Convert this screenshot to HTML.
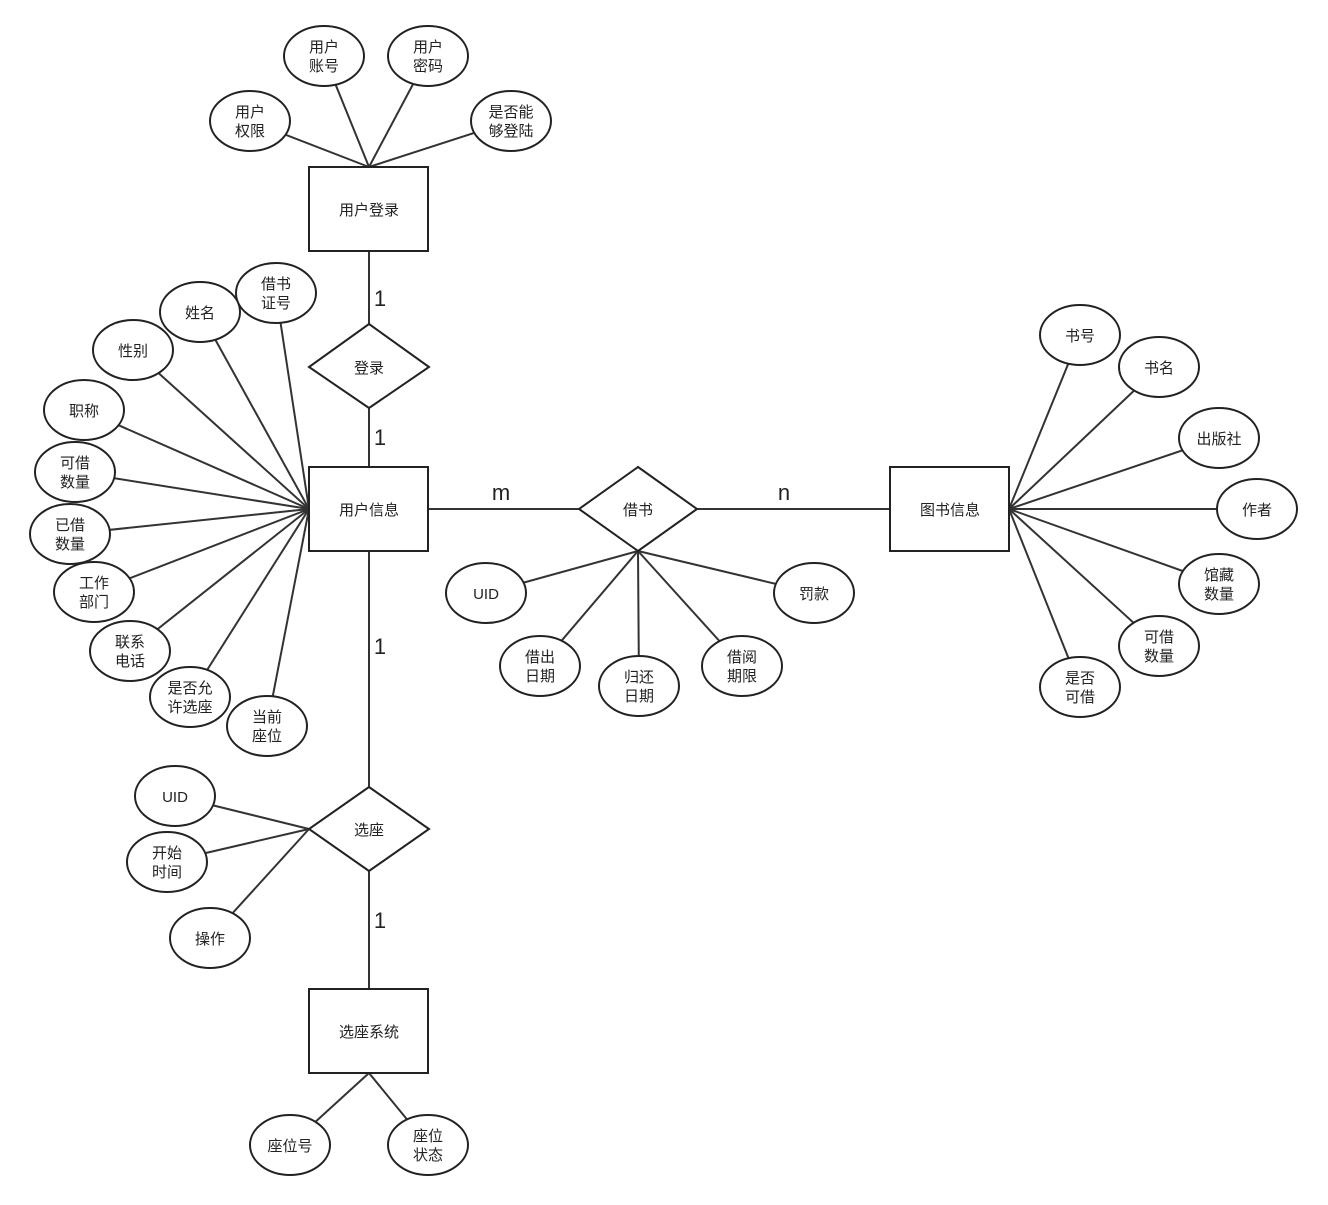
<!DOCTYPE html>
<html><head><meta charset="utf-8"><style>
html,body{margin:0;padding:0;background:#fff;}
svg text{font-family:"Liberation Sans","Noto Sans CJK SC",sans-serif;fill:#222;}
</style></head><body>
<svg width="1328" height="1200" xmlns="http://www.w3.org/2000/svg">
<g stroke="#333" stroke-width="2" fill="none">
<!-- main connectors -->
<line x1="369" y1="251" x2="369" y2="324"/>
<line x1="369" y1="408" x2="369" y2="467"/>
<line x1="428" y1="509" x2="579" y2="509"/>
<line x1="697" y1="509" x2="890" y2="509"/>
<line x1="369" y1="551" x2="369" y2="787"/>
<line x1="369" y1="871" x2="369" y2="989"/>
<!-- login attrs -->
<line x1="369" y1="167" x2="324" y2="56"/>
<line x1="369" y1="167" x2="428" y2="56"/>
<line x1="369" y1="167" x2="250" y2="121"/>
<line x1="369" y1="167" x2="511" y2="121"/>
<!-- user info attrs -->
<line x1="309" y1="509" x2="276" y2="293"/>
<line x1="309" y1="509" x2="200" y2="312"/>
<line x1="309" y1="509" x2="133" y2="350"/>
<line x1="309" y1="509" x2="84" y2="410"/>
<line x1="309" y1="509" x2="75" y2="472"/>
<line x1="309" y1="509" x2="70" y2="534"/>
<line x1="309" y1="509" x2="94" y2="592"/>
<line x1="309" y1="509" x2="130" y2="651"/>
<line x1="309" y1="509" x2="190" y2="697"/>
<line x1="309" y1="509" x2="267" y2="726"/>
<!-- borrow attrs -->
<line x1="638" y1="551" x2="486" y2="593"/>
<line x1="638" y1="551" x2="540" y2="666"/>
<line x1="638" y1="551" x2="639" y2="686"/>
<line x1="638" y1="551" x2="742" y2="666"/>
<line x1="638" y1="551" x2="814" y2="593"/>
<!-- book attrs -->
<line x1="1009" y1="509" x2="1080" y2="335"/>
<line x1="1009" y1="509" x2="1159" y2="367"/>
<line x1="1009" y1="509" x2="1219" y2="438"/>
<line x1="1009" y1="509" x2="1257" y2="509"/>
<line x1="1009" y1="509" x2="1219" y2="584"/>
<line x1="1009" y1="509" x2="1159" y2="646"/>
<line x1="1009" y1="509" x2="1080" y2="687"/>
<!-- seat attrs -->
<line x1="309" y1="829" x2="175" y2="796"/>
<line x1="309" y1="829" x2="167" y2="862"/>
<line x1="309" y1="829" x2="210" y2="938"/>
<line x1="369" y1="1073" x2="290" y2="1145"/>
<line x1="369" y1="1073" x2="428" y2="1145"/>
</g>
<g stroke="#222" stroke-width="2" fill="#fff">
<rect x="309" y="167" width="119" height="84"/>
<rect x="309" y="467" width="119" height="84"/>
<rect x="890" y="467" width="119" height="84"/>
<rect x="309" y="989" width="119" height="84"/>
<polygon points="369,324 429,367 369,408 309,367"/>
<polygon points="638,467 697,509 638,551 579,509"/>
<polygon points="369,787 429,829 369,871 309,829"/>
<ellipse cx="324" cy="56" rx="40" ry="30"/>
<ellipse cx="428" cy="56" rx="40" ry="30"/>
<ellipse cx="250" cy="121" rx="40" ry="30"/>
<ellipse cx="511" cy="121" rx="40" ry="30"/>
<ellipse cx="276" cy="293" rx="40" ry="30"/>
<ellipse cx="200" cy="312" rx="40" ry="30"/>
<ellipse cx="133" cy="350" rx="40" ry="30"/>
<ellipse cx="84" cy="410" rx="40" ry="30"/>
<ellipse cx="75" cy="472" rx="40" ry="30"/>
<ellipse cx="70" cy="534" rx="40" ry="30"/>
<ellipse cx="94" cy="592" rx="40" ry="30"/>
<ellipse cx="130" cy="651" rx="40" ry="30"/>
<ellipse cx="190" cy="697" rx="40" ry="30"/>
<ellipse cx="267" cy="726" rx="40" ry="30"/>
<ellipse cx="486" cy="593" rx="40" ry="30"/>
<ellipse cx="540" cy="666" rx="40" ry="30"/>
<ellipse cx="639" cy="686" rx="40" ry="30"/>
<ellipse cx="742" cy="666" rx="40" ry="30"/>
<ellipse cx="814" cy="593" rx="40" ry="30"/>
<ellipse cx="1080" cy="335" rx="40" ry="30"/>
<ellipse cx="1159" cy="367" rx="40" ry="30"/>
<ellipse cx="1219" cy="438" rx="40" ry="30"/>
<ellipse cx="1257" cy="509" rx="40" ry="30"/>
<ellipse cx="1219" cy="584" rx="40" ry="30"/>
<ellipse cx="1159" cy="646" rx="40" ry="30"/>
<ellipse cx="1080" cy="687" rx="40" ry="30"/>
<ellipse cx="175" cy="796" rx="40" ry="30"/>
<ellipse cx="167" cy="862" rx="40" ry="30"/>
<ellipse cx="210" cy="938" rx="40" ry="30"/>
<ellipse cx="290" cy="1145" rx="40" ry="30"/>
<ellipse cx="428" cy="1145" rx="40" ry="30"/>
</g>
<g font-size="15" text-anchor="middle">
<text x="369" y="215">用户登录</text>
<text x="369" y="515">用户信息</text>
<text x="950" y="515">图书信息</text>
<text x="369" y="1037">选座系统</text>
<text x="369" y="373">登录</text>
<text x="638" y="515">借书</text>
<text x="369" y="835">选座</text>
<text x="324" y="52">用户</text><text x="324" y="71">账号</text>
<text x="428" y="52">用户</text><text x="428" y="71">密码</text>
<text x="250" y="117">用户</text><text x="250" y="136">权限</text>
<text x="511" y="117">是否能</text><text x="511" y="136">够登陆</text>
<text x="276" y="289">借书</text><text x="276" y="308">证号</text>
<text x="200" y="318">姓名</text>
<text x="133" y="356">性别</text>
<text x="84" y="416">职称</text>
<text x="75" y="468">可借</text><text x="75" y="487">数量</text>
<text x="70" y="530">已借</text><text x="70" y="549">数量</text>
<text x="94" y="588">工作</text><text x="94" y="607">部门</text>
<text x="130" y="647">联系</text><text x="130" y="666">电话</text>
<text x="190" y="693">是否允</text><text x="190" y="712">许选座</text>
<text x="267" y="722">当前</text><text x="267" y="741">座位</text>
<text x="486" y="599">UID</text>
<text x="540" y="662">借出</text><text x="540" y="681">日期</text>
<text x="639" y="682">归还</text><text x="639" y="701">日期</text>
<text x="742" y="662">借阅</text><text x="742" y="681">期限</text>
<text x="814" y="599">罚款</text>
<text x="1080" y="341">书号</text>
<text x="1159" y="373">书名</text>
<text x="1219" y="444">出版社</text>
<text x="1257" y="515">作者</text>
<text x="1219" y="580">馆藏</text><text x="1219" y="599">数量</text>
<text x="1159" y="642">可借</text><text x="1159" y="661">数量</text>
<text x="1080" y="683">是否</text><text x="1080" y="702">可借</text>
<text x="175" y="802">UID</text>
<text x="167" y="858">开始</text><text x="167" y="877">时间</text>
<text x="210" y="944">操作</text>
<text x="290" y="1151">座位号</text>
<text x="428" y="1141">座位</text><text x="428" y="1160">状态</text>
</g>
<g font-size="22" text-anchor="middle">
<text x="380" y="306">1</text>
<text x="380" y="445">1</text>
<text x="380" y="654">1</text>
<text x="380" y="928">1</text>
<text x="501" y="500">m</text>
<text x="784" y="500">n</text>
</g>
</svg>
</body></html>
